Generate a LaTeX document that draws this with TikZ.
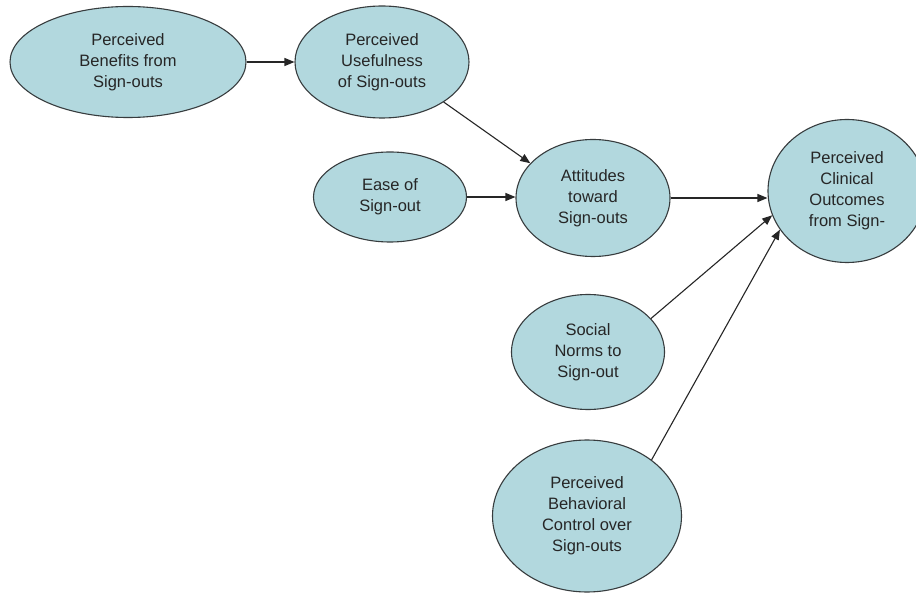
\documentclass[tikz,border=0pt]{standalone}
\usepackage{fontspec}
\setmainfont{Liberation Sans}
\usetikzlibrary{shapes.geometric,arrows.meta}
\definecolor{ovalfill}{RGB}{178,216,222}
\definecolor{ovaledge}{RGB}{55,60,62}
\begin{document}
\begin{tikzpicture}[x=1pt,y=1pt,
  oval/.style={ellipse,draw=ovaledge,line width=1.1pt,fill=ovalfill,inner sep=0pt,
    align=center,font=\fontsize{16.5}{21}\selectfont,text=black!85},
  link/.style={line width=1.1pt,draw=black!85,-{Triangle[length=10pt,width=8pt]}}]
\path[use as bounding box,fill=white] (0,0) rectangle (916,-593);
\node[oval,minimum width=236pt,minimum height=111pt] (ben) at (128,-62) {Perceived\\Benefits from\\Sign-outs};
\node[oval,minimum width=174pt,minimum height=112pt] (use) at (382,-62) {Perceived\\Usefulness\\of Sign-outs};
\node[oval,minimum width=153pt,minimum height=90pt] (ease) at (390,-197) {Ease of\\Sign-out};
\node[oval,minimum width=154pt,minimum height=117pt] (att) at (593,-198) {Attitudes\\toward\\Sign-outs};
\node[oval,minimum width=158pt,minimum height=143pt] (clin) at (847,-191) {Perceived\\Clinical\\Outcomes\\from Sign-};
\node[oval,minimum width=153pt,minimum height=115pt] (soc) at (588,-352) {Social\\Norms to\\Sign-out};
\node[oval,minimum width=189pt,minimum height=152pt] (beh) at (587,-516) {Perceived\\Behavioral\\Control over\\Sign-outs};
\draw[link] (ben.east) -- (use.west);
\draw[link] (use.-33) -- (att.151);
\draw[link] (ease.east) -- (ease.east -| att.west);
\draw[link] (att.east) -- (att.east -| clin.west);
\draw[link] (soc.28) -- (clin.198);
\draw[link] (beh.41) -- (clin.210);
\end{tikzpicture}
\end{document}
